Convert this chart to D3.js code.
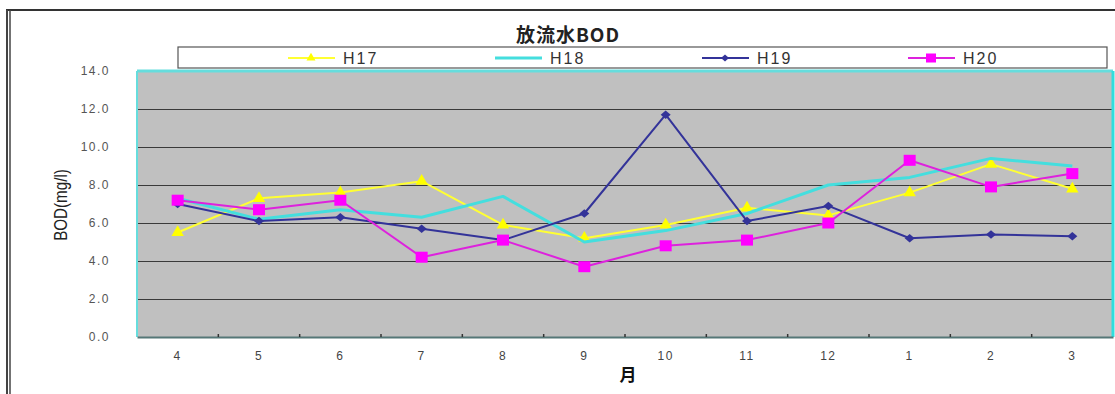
<!DOCTYPE html>
<html><head><meta charset="utf-8">
<script src="https://cdn.jsdelivr.net/npm/d3@7"></script>
<style>
body{margin:0;background:#fff;}
svg{display:block;font-family:"Liberation Sans",Arial,sans-serif;}
</style></head>
<body>
<svg id="chart" width="1115" height="394"></svg>
<script>
const months = ["4","5","6","7","8","9","10","11","12","1","2","3"];
const h17 = [5.5, 7.3, 7.6, 8.2, 5.9, 5.2, 5.9, 6.8, 6.4, 7.6, 9.1, 7.8];
const h18 = [7.3, 6.2, 6.7, 6.3, 7.4, 5.0, 5.6, 6.5, 8.0, 8.4, 9.4, 9.0];
const h19 = [7.0, 6.1, 6.3, 5.7, 5.1, 6.5, 11.7, 6.1, 6.9, 5.2, 5.4, 5.3];
const h20 = [7.2, 6.7, 7.2, 4.2, 5.1, 3.7, 4.8, 5.1, 6.0, 9.3, 7.9, 8.6];
const yTicks = [0, 2, 4, 6, 8, 10, 12, 14];
const seriesNames = ["H17", "H18", "H19", "H20"];

const series = [
  {name: seriesNames[0], values: h17, color: "#ffff00", line: "#ffff33", width: 2, marker: "triangle"},
  {name: seriesNames[1], values: h18, color: "#44dede", line: "#44dede", width: 3, marker: "none"},
  {name: seriesNames[2], values: h19, color: "#333399", line: "#333399", width: 2, marker: "diamond"},
  {name: seriesNames[3], values: h20, color: "#ff00ff", line: "#dd22dd", width: 2, marker: "square"}
];

const svg = d3.select("#chart");
const plot = {left: 137, top: 71, right: 1113, bottom: 337};

// outer chart frame
svg.append("line").attr("x1", 6).attr("x2", 1115).attr("y1", 10).attr("y2", 10)
  .attr("stroke", "#333").attr("stroke-width", 2);
svg.append("line").attr("x1", 7).attr("x2", 7).attr("y1", 10).attr("y2", 394)
  .attr("stroke", "#444").attr("stroke-width", 2);
svg.append("line").attr("x1", 10).attr("x2", 10).attr("y1", 10).attr("y2", 394)
  .attr("stroke", "#444").attr("stroke-width", 1.5);

const x = d3.scaleBand().domain(months).range([plot.left, plot.right]);
const y = d3.scaleLinear().domain([0, 14]).range([plot.bottom, plot.top]);

// plot background
svg.append("rect").attr("x", plot.left).attr("y", plot.top)
  .attr("width", plot.right - plot.left).attr("height", plot.bottom - plot.top)
  .attr("fill", "#c0c0c0");

// horizontal gridlines
svg.append("g").selectAll("line").data(yTicks.filter(d => d > 0 && d < 14)).join("line")
  .attr("x1", plot.left).attr("x2", plot.right)
  .attr("y1", d => Math.round(y(d)) + 0.5).attr("y2", d => Math.round(y(d)) + 0.5)
  .attr("stroke", "#3a3a3a").attr("stroke-width", 1.2);

// plot border
svg.append("line").attr("x1", plot.left).attr("x2", plot.right).attr("y1", plot.top).attr("y2", plot.top)
  .attr("stroke", "#66dddd").attr("stroke-width", 3);
svg.append("line").attr("x1", plot.left).attr("x2", plot.left).attr("y1", plot.top).attr("y2", plot.bottom)
  .attr("stroke", "#66dddd").attr("stroke-width", 2);
svg.append("line").attr("x1", plot.right).attr("x2", plot.right).attr("y1", plot.top).attr("y2", plot.bottom)
  .attr("stroke", "#33dddd").attr("stroke-width", 3);

// x axis with inward ticks at category boundaries
const xAxis = svg.append("g").attr("transform", `translate(0,${plot.bottom})`)
  .call(d3.axisBottom(x).tickSize(0).tickPadding(14));
xAxis.select(".domain").attr("stroke", "#557777").attr("stroke-width", 2);
xAxis.selectAll("text").attr("fill", "#444").attr("font-size", 12).style("letter-spacing", "1.5px");
svg.append("g").selectAll("line").data(months.slice(1)).join("line")
  .attr("x1", d => x(d)).attr("x2", d => x(d))
  .attr("y1", plot.bottom).attr("y2", plot.bottom - 3)
  .attr("stroke", "#333").attr("stroke-width", 1.5);

// y axis labels
const yAxis = svg.append("g").attr("transform", `translate(${plot.left},0)`)
  .call(d3.axisLeft(y).tickValues(yTicks).tickSize(0).tickPadding(27).tickFormat(d3.format(".1f")));
yAxis.select(".domain").remove();
yAxis.selectAll("text").attr("fill", "#555").attr("font-size", 12).style("letter-spacing", "1.5px");

// axis titles
svg.append("text").attr("transform", "translate(67,205) rotate(-90) scale(0.8,1)")
  .attr("text-anchor", "middle").attr("font-size", 19).attr("fill", "#222")
  .text("BOD(mg/l)");
svg.append("text").attr("x", 628).attr("y", 381).attr("text-anchor", "middle")
  .attr("font-family", "'Noto Sans CJK JP'").attr("font-weight", "bold")
  .attr("font-size", 17).attr("fill", "#111").text("月");

// title
svg.append("text").attr("x", 568).attr("y", 42).attr("text-anchor", "middle")
  .attr("font-family", "'Noto Sans CJK JP'").attr("font-weight", "bold")
  .attr("font-size", 19).attr("fill", "#222").style("letter-spacing", "1px").text("放流水BOD");

// marker drawing
function drawMarker(g, type, color, size) {
  if (type === "triangle") {
    g.append("path").attr("d", d3.symbol(d3.symbolTriangle, size * size * 0.55)()).attr("fill", color);
  } else if (type === "diamond") {
    const h = size / 2;
    g.append("path").attr("d", `M0,${-h * 0.85}L${h},0L0,${h * 0.85}L${-h},0Z`).attr("fill", color);
  } else if (type === "square") {
    g.append("rect").attr("x", -size / 2).attr("y", -size / 2 + 0.5)
      .attr("width", size).attr("height", size - 1).attr("fill", color);
  }
}
const markerSize = {triangle: 11, diamond: 10, square: 12, none: 0};

// series lines and markers
const lineGen = d3.line().x((d, i) => x(months[i]) + x.bandwidth() / 2).y(d => y(d));
series.forEach(s => {
  svg.append("path").datum(s.values).attr("d", lineGen)
    .attr("fill", "none").attr("stroke", s.line).attr("stroke-width", s.width)
    .attr("stroke-linejoin", "round");
  if (s.marker !== "none") {
    s.values.forEach((v, i) => {
      const g = svg.append("g")
        .attr("transform", `translate(${x(months[i]) + x.bandwidth() / 2},${y(v)})`);
      drawMarker(g, s.marker, s.color, markerSize[s.marker]);
    });
  }
});

// legend
const legend = {left: 178, top: 47, right: 1107, bottom: 68};
svg.append("rect").attr("x", legend.left).attr("y", legend.top)
  .attr("width", legend.right - legend.left).attr("height", legend.bottom - legend.top)
  .attr("fill", "#fff").attr("stroke", "#555").attr("stroke-width", 1.2);
const legendX = [288, 495, 702, 908];
series.forEach((s, i) => {
  const lx = legendX[i], ly = 58;
  svg.append("line").attr("x1", lx).attr("x2", lx + 47).attr("y1", ly).attr("y2", ly)
    .attr("stroke", s.line).attr("stroke-width", s.width);
  if (s.marker !== "none") {
    const g = svg.append("g").attr("transform", `translate(${lx + 23},${ly})`);
    drawMarker(g, s.marker, s.color, s.marker === "square" ? 10 : 8);
  }
  svg.append("text").attr("x", lx + 55).attr("y", ly + 6)
    .attr("font-size", 16).attr("fill", "#333").style("letter-spacing", "2px").text(s.name);
});
</script>
</body></html>
